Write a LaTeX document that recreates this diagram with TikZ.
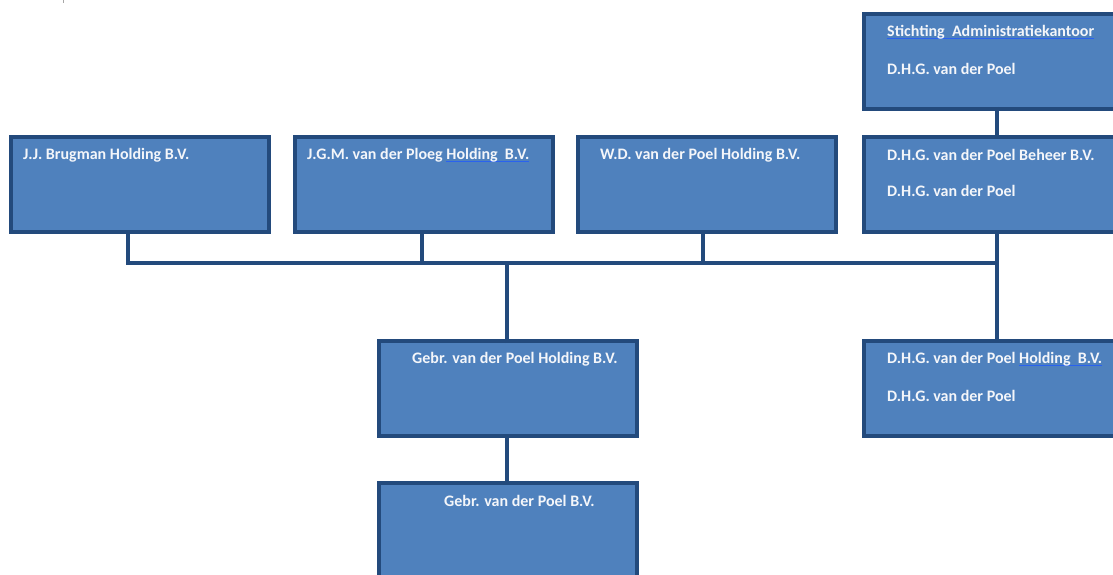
\documentclass[tikz,border=0pt]{standalone}
\usepackage{fontspec}
\setmainfont{Carlito}
\usetikzlibrary{shadows}
\definecolor{boxfill}{HTML}{4F81BD}
\definecolor{boxline}{HTML}{234A7C}
\definecolor{boxtext}{HTML}{F4F6FA}
\definecolor{ulblue}{HTML}{2A62F0}
\newsavebox\ulwordbox
\newcommand\blueul[1]{\sbox\ulwordbox{#1}\rlap{\color{ulblue}\rule[-3.2pt]{\wd\ulwordbox}{1.6pt}}\usebox\ulwordbox}
\begin{document}
\begin{tikzpicture}[x=1pt,y=-1pt,
  orgbox/.style={draw=boxline, line width=4pt, fill=boxfill, rectangle, inner sep=0pt, outer sep=0pt,
    anchor=north west, minimum width=258pt, minimum height=95pt,
    drop shadow={shadow xshift=2pt, shadow yshift=-2pt, opacity=0.25, fill=black}},
  orgtext/.style={anchor=west, inner sep=0pt, text=boxtext, font=\fontsize{16}{18}\selectfont\bfseries},
  link/.style={draw=boxline, line width=4pt}]
\useasboundingbox (0,0) rectangle (1113,575);
\clip (0,0) rectangle (1113,575);
\draw[gray!70, line width=0.8pt] (63.5,0) -- (63.5,3);
% boxes
\node[orgbox] (jj) at (11,137) {};
\node[orgbox] (jgm) at (295,137) {};
\node[orgbox] (wd) at (578,137) {};
\node[orgbox] (beheer) at (864,137) {};
\node[orgbox] (stichting) at (864,14) {};
\node[orgbox] (gebrh) at (379,341) {};
\node[orgbox] (dhgh) at (864,341) {};
\node[orgbox] (gebr) at (379,483) {};
% texts
\node[orgtext] (tjj) at (23,155) {J.J. Brugman Holding B.V.};
\node[orgtext] (tjgm) at (307,155) {J.G.M. van der Ploeg \blueul{Holding\ \ B.V.}};
\node[orgtext] (twd) at (600,155) {W.D. van der Poel Holding B.V.};
\node[orgtext] (tbeh1) at (887,155) {D.H.G. van der Poel Beheer B.V.};
\node[orgtext] (tbeh2) at (887,191) {D.H.G. van der Poel};
\node[orgtext] (tst1) at (887,32) {\blueul{Stichting\ \ Administratiekantoor}};
\node[orgtext] (tst2) at (887,69) {D.H.G. van der Poel};
\node[orgtext] (tgh) at (412,359) {Gebr. van der Poel Holding B.V.};
\node[orgtext] (tdh1) at (887,359) {D.H.G. van der Poel \blueul{Holding\ \ B.V.}};
\node[orgtext] (tdh2) at (887,396) {D.H.G. van der Poel};
\node[orgtext] (tg) at (444,501) {Gebr. van der Poel B.V.};
% connectors
\coordinate (busL) at (128,262.5);
\coordinate (busR) at (997,262.5);
\coordinate (busJ) at (422,262.5);
\coordinate (busW) at (703,262.5);
\coordinate (busG) at (507,262.5);
\draw[link] ([yshift=2pt]jj.south -| busL) -- (busL) -- (busR);
\draw[link] ([yshift=2pt]jgm.south -| busJ) -- (busJ);
\draw[link] ([yshift=2pt]wd.south -| busW) -- (busW);
\draw[link] ([yshift=2pt]beheer.south -| busR) -- ([yshift=-2pt]dhgh.north -| busR);
\draw[link] ([yshift=2pt]stichting.south -| busR) -- ([yshift=-2pt]beheer.north -| busR);
\draw[link] ([yshift=-2pt]gebrh.north -| busG) -- (busG);
\draw[link] ([yshift=2pt]gebrh.south -| busG) -- ([yshift=-2pt]gebr.north -| busG);
\end{tikzpicture}
\end{document}
